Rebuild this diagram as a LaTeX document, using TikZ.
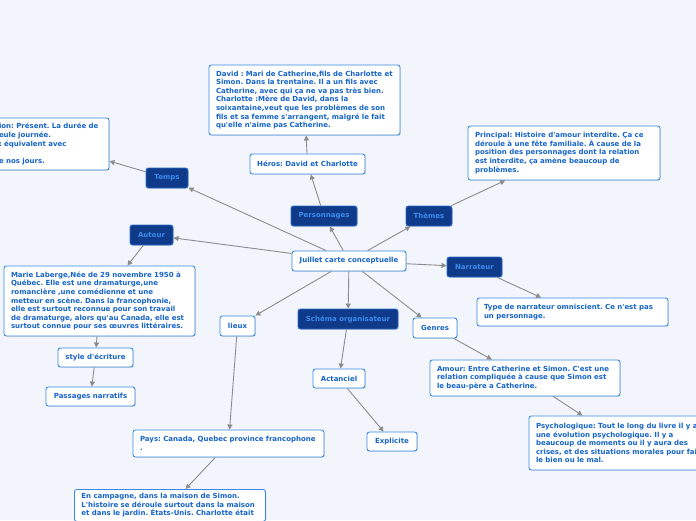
\documentclass[tikz,border=0pt]{standalone}
\usepackage{fontspec}
\newfontfamily\mapfont{DejaVu Sans}
\usetikzlibrary{arrows.meta,shadows}
\definecolor{bg}{HTML}{F2F5FC}
\definecolor{dfill}{HTML}{0F3A8A}
\definecolor{dborder}{HTML}{2E6CCB}
\definecolor{dtext}{HTML}{3C8CEB}
\definecolor{wborder}{HTML}{3A8AE4}
\definecolor{wtext}{HTML}{1664C8}
\definecolor{arr}{HTML}{8C8C8C}
\frenchspacing
\begin{document}
\begin{tikzpicture}[x=1pt,y=-1pt,
 base/.style={rounded corners=2.5pt, line width=0.9pt, font=\mapfont\bfseries\fontsize{7}{8.6}\selectfont,
   drop shadow={opacity=0.22,shadow xshift=0.8pt,shadow yshift=-0.8pt}},
 dark/.style={base, fill=dfill, draw=dborder, text=dtext, minimum height=20pt, inner xsep=3pt},
 wbox/.style={base, fill=white, draw=wborder, text=wtext, minimum height=20pt, inner xsep=3pt},
 tbox/.style={base, fill=white, draw=wborder, text=wtext, align=left, inner xsep=7pt, inner ysep=4pt},
 con/.style={draw=arr, line width=0.9pt, -{Triangle[length=5pt,width=5pt]}}
]
\fill[bg] (0,0) rectangle (696,520);
\useasboundingbox (0,0) rectangle (696,520);

% central
\node[wbox, minimum width=114pt] (c) at (349,261) {Juillet carte conceptuelle};

% dark nodes
\node[dark, minimum width=42pt] (temps) at (167,178) {Temps};
\node[dark, minimum width=66pt] (perso) at (324,216) {Personnages};
\node[dark, minimum width=46pt] (themes) at (429,216) {Thèmes};
\node[dark, minimum width=43pt] (auteur) at (151.5,235) {Auteur};
\node[dark, minimum width=55pt] (narr) at (474.5,267) {Narrateur};
\node[dark, minimum width=100pt] (schema) at (348,319) {Schéma organisateur};

% small white nodes
\node[wbox, minimum width=115pt] (heros) at (307.5,164) {Héros: David et Charlotte};
\node[wbox, minimum width=75pt, minimum height=19pt] (style) at (95.5,357.5) {style d'écriture};
\node[wbox, minimum width=89pt, minimum height=19pt] (pass) at (90.5,396.5) {Passages narratifs};
\node[wbox, minimum width=44pt] (genres) at (435,328) {Genres};
\node[wbox, minimum width=52pt, minimum height=19pt] (actan) at (339,378.5) {Actanciel};
\node[wbox, minimum width=50pt, minimum height=19pt] (expl) at (392,441.5) {Explicite};
\node[wbox, minimum width=35pt] (lieux) at (237.5,326) {lieux};

% text boxes
\node[tbox, text width=103pt, minimum height=52pt] (ttext) at (50.5,144)
 {ion: Présent. La durée de\\eule journée.\\: équivalent avec\\[8.6pt]e nos jours.};
\node[tbox, text width=177pt, minimum height=70pt] (david) at (304.5,100)
 {David : Mari de Catherine,fils de Charlotte et\\Simon. Dans la trentaine. Il a un fils avec\\Catherine, avec qui ça ne va pas très bien.\\Charlotte :Mère de David, dans la\\soixantaine,veut que les problèmes de son\\fils et sa femme s'arrangent, malgré le fait\\qu'elle n'aime pas Catherine.};
\node[tbox, text width=178pt, minimum height=54pt] (princ) at (564,153)
 {Principal: Histoire d'amour interdite. Ça ce\\déroule à une fête familiale. À cause de la\\position des personnages dont la relation\\est interdite, ça amène beaucoup de\\problèmes.};
\node[tbox, text width=177pt, minimum height=70pt] (marie) at (99.5,301)
 {Marie Laberge,Née de 29 novembre 1950 à\\Québec. Elle est une dramaturge,une\\romancière ,une comédienne et une\\metteur en scène. Dans la francophonie,\\elle est surtout reconnue pour son travail\\de dramaturge, alors qu'au Canada, elle est\\surtout connue pour ses œuvres littéraires.};
\node[tbox, text width=177pt, minimum height=28pt] (type) at (572.5,312)
 {Type de narrateur omniscient. Ce n'est pas\\un personnage.};
\node[tbox, text width=176pt, minimum height=36pt] (amour) at (525,378)
 {Amour: Entre Catherine et Simon. C'est une\\relation compliquée à cause que Simon est\\le beau-père a Catherine.};
\node[tbox, text width=177pt, minimum height=54pt] (psych) at (624.5,443)
 {Psychologique: Tout le long du livre il y a\\une évolution psychologique. Il y a\\beaucoup de moments ou il y aura des\\crises, et des situations morales pour faire\\le bien ou le mal.};
\node[tbox, text width=177pt, minimum height=27pt] (pays) at (228.5,443.5)
 {Pays: Canada, Quebec province francophone\\.};
\node[tbox, text width=177pt, anchor=north west] (camp) at (74,489)
 {En campagne, dans la maison de Simon.\\L'histoire se déroule surtout dans la maison\\et dans le jardin. États-Unis. Charlotte était};

% connectors
\draw[con] (c) -- (temps);
\draw[con] (c) -- (auteur);
\draw[con] (c) -- (perso);
\draw[con] (c) -- (themes);
\draw[con] (c) -- (narr);
\draw[con] (c) -- (genres);
\draw[con] (c) -- (schema);
\draw[con] (c) -- (lieux);
\draw[con] (temps) -- (ttext);
\draw[con] (perso) -- (heros);
\draw[con] (heros) -- (david);
\draw[con] (themes) -- (princ);
\draw[con] (auteur) -- (marie);
\draw[con] (marie) -- (style);
\draw[con] (style) -- (pass);
\draw[con] (narr) -- (type);
\draw[con] (genres) -- (amour);
\draw[con] (amour) -- (psych);
\draw[con] (schema) -- (actan);
\draw[con] (actan) -- (expl);
\draw[con] (lieux) -- (pays);
\draw[con] (pays) -- (camp);
\end{tikzpicture}
\end{document}
